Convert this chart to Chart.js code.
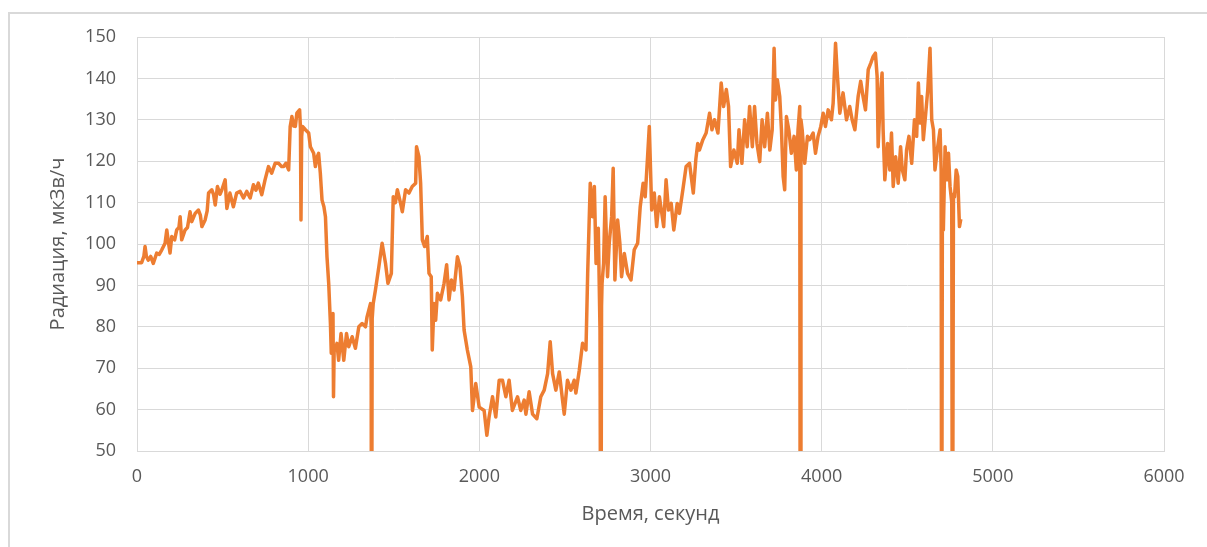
<!DOCTYPE html>
<html>
<head>
<meta charset="utf-8">
<script src="https://cdn.jsdelivr.net/npm/chart.js@4"></script>
<style>
  html, body { margin: 0; padding: 0; background: #fff; overflow: hidden; }
  #wrap { position: relative; width: 1207px; height: 547px; }
  #frame { position: absolute; left: 8px; top: 12px; width: 1220px; height: 560px; border: 2px solid #d9d9d9; box-sizing: border-box; }
  #chartBox { position: absolute; left: 0; top: 0; width: 1207px; height: 547px; }
</style>
</head>
<body>
<div id="wrap">
  <div id="frame"></div>
  <div id="chartBox"><canvas id="lineChart"></canvas></div>
</div>
<script>
// time, seconds
var times = [0, 27, 40, 47, 55, 66, 80, 95, 115, 130, 145, 164, 174, 185, 193, 203, 220, 232, 245, 252,
  261, 281, 295, 310, 320, 340, 359, 370, 379, 398, 410, 418, 437, 447, 457, 470, 485, 496, 515, 525,
  543, 563, 582, 602, 622, 641, 661, 680, 695, 709, 729, 748, 768, 787, 807, 827, 845, 857, 870, 886,
  895, 905, 915, 925, 934, 950, 955, 958, 962, 967, 984, 1003, 1013, 1032, 1042, 1052, 1061, 1071, 1081, 1092,
  1101, 1110, 1120, 1130, 1135, 1140, 1145, 1148, 1152, 1159, 1168, 1178, 1192, 1208, 1224, 1237, 1257, 1276, 1296, 1315,
  1335, 1344, 1364, 1368, 1370, 1374, 1380, 1393, 1413, 1432, 1452, 1466, 1486, 1497, 1510, 1521, 1540, 1550, 1569, 1589,
  1608, 1628, 1633, 1647, 1657, 1667, 1680, 1696, 1706, 1719, 1725, 1735, 1745, 1755, 1774, 1794, 1809, 1823, 1837, 1852,
  1872, 1887, 1901, 1911, 1930, 1950, 1960, 1979, 1999, 2028, 2044, 2057, 2077, 2096, 2116, 2135, 2155, 2174, 2193, 2223,
  2242, 2262, 2272, 2291, 2311, 2336, 2359, 2379, 2399, 2414, 2428, 2447, 2467, 2486, 2496, 2515, 2535, 2554, 2564, 2584,
  2603, 2623, 2633, 2648, 2662, 2672, 2682, 2695, 2705, 2710, 2714, 2717, 2726, 2735, 2749, 2759, 2773, 2782, 2792, 2808,
  2821, 2831, 2847, 2866, 2886, 2905, 2925, 2940, 2957, 2969, 2983, 2993, 3007, 3022, 3036, 3052, 3066, 3077, 3091, 3105,
  3121, 3136, 3156, 3169, 3189, 3208, 3228, 3250, 3265, 3276, 3286, 3306, 3325, 3345, 3359, 3374, 3394, 3413, 3427, 3443,
  3456, 3468, 3487, 3507, 3517, 3534, 3550, 3565, 3579, 3595, 3608, 3622, 3638, 3652, 3667, 3683, 3697, 3711, 3722, 3730,
  3741, 3755, 3765, 3775, 3784, 3794, 3808, 3823, 3839, 3852, 3862, 3872, 3875, 3879, 3886, 3901, 3917, 3930, 3950, 3964,
  3979, 3995, 4009, 4022, 4038, 4057, 4067, 4081, 4090, 4106, 4125, 4145, 4164, 4178, 4194, 4213, 4228, 4242, 4256, 4272,
  4287, 4301, 4314, 4324, 4330, 4345, 4353, 4359, 4369, 4385, 4398, 4408, 4418, 4432, 4447, 4461, 4471, 4486, 4496, 4510,
  4526, 4542, 4555, 4565, 4575, 4584, 4594, 4608, 4620, 4633, 4643, 4653, 4662, 4678, 4692, 4698, 4701, 4705, 4711, 4721,
  4731, 4741, 4750, 4760, 4764, 4770, 4776, 4786, 4795, 4805, 4813];

// radiation, uSv/h
var radiation = [95.5, 95.5, 97, 99.4, 97, 96.1, 97, 95.3, 97.8, 97.5, 98.6, 100.2, 103.4, 100, 97.8, 101.8, 101, 103.4, 104, 106.6,
  101, 103.4, 104, 107.8, 105.4, 107.4, 108.2, 107, 104.2, 105.8, 108, 112.3, 113.1, 112, 109.4, 113.9, 112, 113.1, 115.5, 108.6,
  112.3, 109, 112.3, 112.7, 111.1, 112.7, 111.1, 114.3, 113, 114.7, 111.9, 115.5, 118.7, 117.1, 119.5, 119.5, 118.7, 118.7, 119.5, 117.9,
  128.4, 130.8, 128.5, 128.4, 131.6, 132.4, 128, 105.8, 126, 128.4, 127.6, 126.8, 123.5, 121.9, 118.7, 121, 121.9, 117.1, 110.6, 109,
  106.6, 96.9, 90.5, 80.8, 73.6, 76, 83.2, 63.1, 75, 74.4, 76, 71.9, 78.4, 71.9, 78.4, 75.2, 77.6, 74.8, 80, 80.8,
  80, 82.4, 85.6, 80, 0, 82, 85.6, 88.9, 94.5, 100.2, 95.3, 90.5, 92.9, 111.4, 110, 113.1, 109.8, 107.8, 113.1, 112.3,
  113.9, 114.7, 123.5, 121.1, 114.7, 101, 99.4, 101.8, 92.9, 92.1, 74.4, 85.6, 81.6, 88.1, 86.5, 90.5, 95, 86.5, 91.3, 88.9,
  96.9, 94.5, 87.3, 79.2, 74.4, 70.3, 59.8, 66.3, 60.6, 59.8, 53.8, 58.2, 63.1, 58.2, 67.1, 67.1, 63.1, 67.1, 59.8, 63.1,
  59.8, 62.3, 58.9, 64.3, 58.9, 57.8, 63.1, 64.7, 68.7, 76.4, 68.7, 64.7, 69.1, 62.3, 58.9, 67.1, 64.7, 67.1, 64, 69.5,
  76, 74.4, 92.9, 114.7, 106.6, 113.9, 95.3, 103.8, 79.2, 0, 85, 90.5, 95.3, 111.4, 92.1, 100.2, 106.6, 118.3, 91.3, 105.8,
  100.2, 92.1, 97.7, 92.9, 91.3, 98.6, 100.2, 109, 114.7, 111.4, 121.1, 128.4, 108.2, 112.3, 104.2, 111.4, 107.4, 104.2, 115.5, 108.2,
  109.8, 103.4, 109.8, 107.4, 113.1, 118.7, 119.5, 112.3, 120.5, 124.3, 122.7, 125.2, 126.8, 131.6, 127.6, 130, 126.8, 138.9, 133.2, 137.3,
  133.2, 118.7, 122.7, 119.5, 127.6, 119.5, 130, 123.5, 133.2, 123.5, 133.2, 124.3, 119.9, 130, 123.5, 131.6, 122.7, 127.6, 147.3, 134.8,
  139.7, 135.6, 127.6, 116.3, 113.1, 130.8, 127.6, 121.9, 126, 117.9, 127.6, 133.2, 0, 130, 127.6, 119.5, 126, 125.2, 126.8, 121.9,
  126, 128.4, 131.6, 128.4, 132.4, 130, 134, 148.5, 142, 131.6, 136.5, 130, 133.2, 130, 127.6, 135.6, 139.3, 135.6, 132.4, 142.1,
  143.7, 145.3, 146.1, 140.5, 123.5, 137.3, 141.3, 127.6, 115.5, 124.3, 117.9, 126.8, 113.9, 121.1, 114.7, 123.5, 117.9, 115.5, 122.7, 126,
  119.5, 130, 126, 138.9, 129.2, 135.6, 125.2, 131.6, 137.3, 147.3, 130, 127.6, 117.9, 123.5, 127.6, 117.9, 0, 103.4, 103.4, 123.5,
  115.5, 121.9, 113.9, 110, 0, 112, 111.4, 117.9, 116.3, 104.2, 106];

var xTicks = [0, 1000, 2000, 3000, 4000, 5000, 6000];
var yTicks = [50, 60, 70, 80, 90, 100, 110, 120, 130, 140, 150];

var points = [];
for (var i = 0; i < times.length; i++) {
  points.push({ x: times[i], y: radiation[i] });
}

var ctxL = document.getElementById("lineChart").getContext('2d');
var myLineChart = new Chart(ctxL, {
  type: 'line',
  data: {
    datasets: [{
      label: "Радиация",
      data: points,
      borderColor: '#ED7D31',
      backgroundColor: 'rgba(0, 0, 0, 0)',
      borderWidth: 3.5,
      pointRadius: 0,
      tension: 0,
      borderJoinStyle: 'round'
    }]
  },
  options: {
    responsive: true,
    maintainAspectRatio: false,
    animation: false,
    layout: { padding: { top: 37, right: 43, bottom: 0, left: 0 } },
    plugins: {
      legend: { display: false },
      tooltip: { enabled: false }
    },
    scales: {
      x: {
        type: 'linear',
        min: xTicks[0],
        max: xTicks[xTicks.length - 1],
        afterBuildTicks: function (scale) {
          scale.ticks = xTicks.map(function (v) { return { value: v }; });
        },
        afterFit: function (scale) { scale.height = 96; },
        grid: { color: '#d9d9d9', drawTicks: false },
        border: { color: '#d9d9d9' },
        ticks: {
          padding: 15,
          color: '#595959',
          font: { family: 'Open Sans', size: 18 },
          callback: function (v) { return String(v); }
        },
        title: {
          display: true,
          text: 'Время, секунд',
          color: '#595959',
          font: { family: 'Open Sans', size: 20 },
          padding: { top: 0, bottom: 21 }
        }
      },
      y: {
        min: yTicks[0],
        max: yTicks[yTicks.length - 1],
        afterBuildTicks: function (scale) {
          scale.ticks = yTicks.map(function (v) { return { value: v }; });
        },
        afterFit: function (scale) { scale.width = 137; },
        grid: { color: '#d9d9d9', drawTicks: false },
        border: { color: '#d9d9d9' },
        ticks: {
          padding: 21,
          color: '#595959',
          font: { family: 'Open Sans', size: 18 },
          callback: function (v) { return String(v); }
        },
        title: {
          display: true,
          text: 'Радиация, мкЗв/ч',
          color: '#595959',
          font: { family: 'Open Sans', size: 20 },
          padding: { top: 46, bottom: 0 }
        }
      }
    }
  }
});
</script>
</body>
</html>
